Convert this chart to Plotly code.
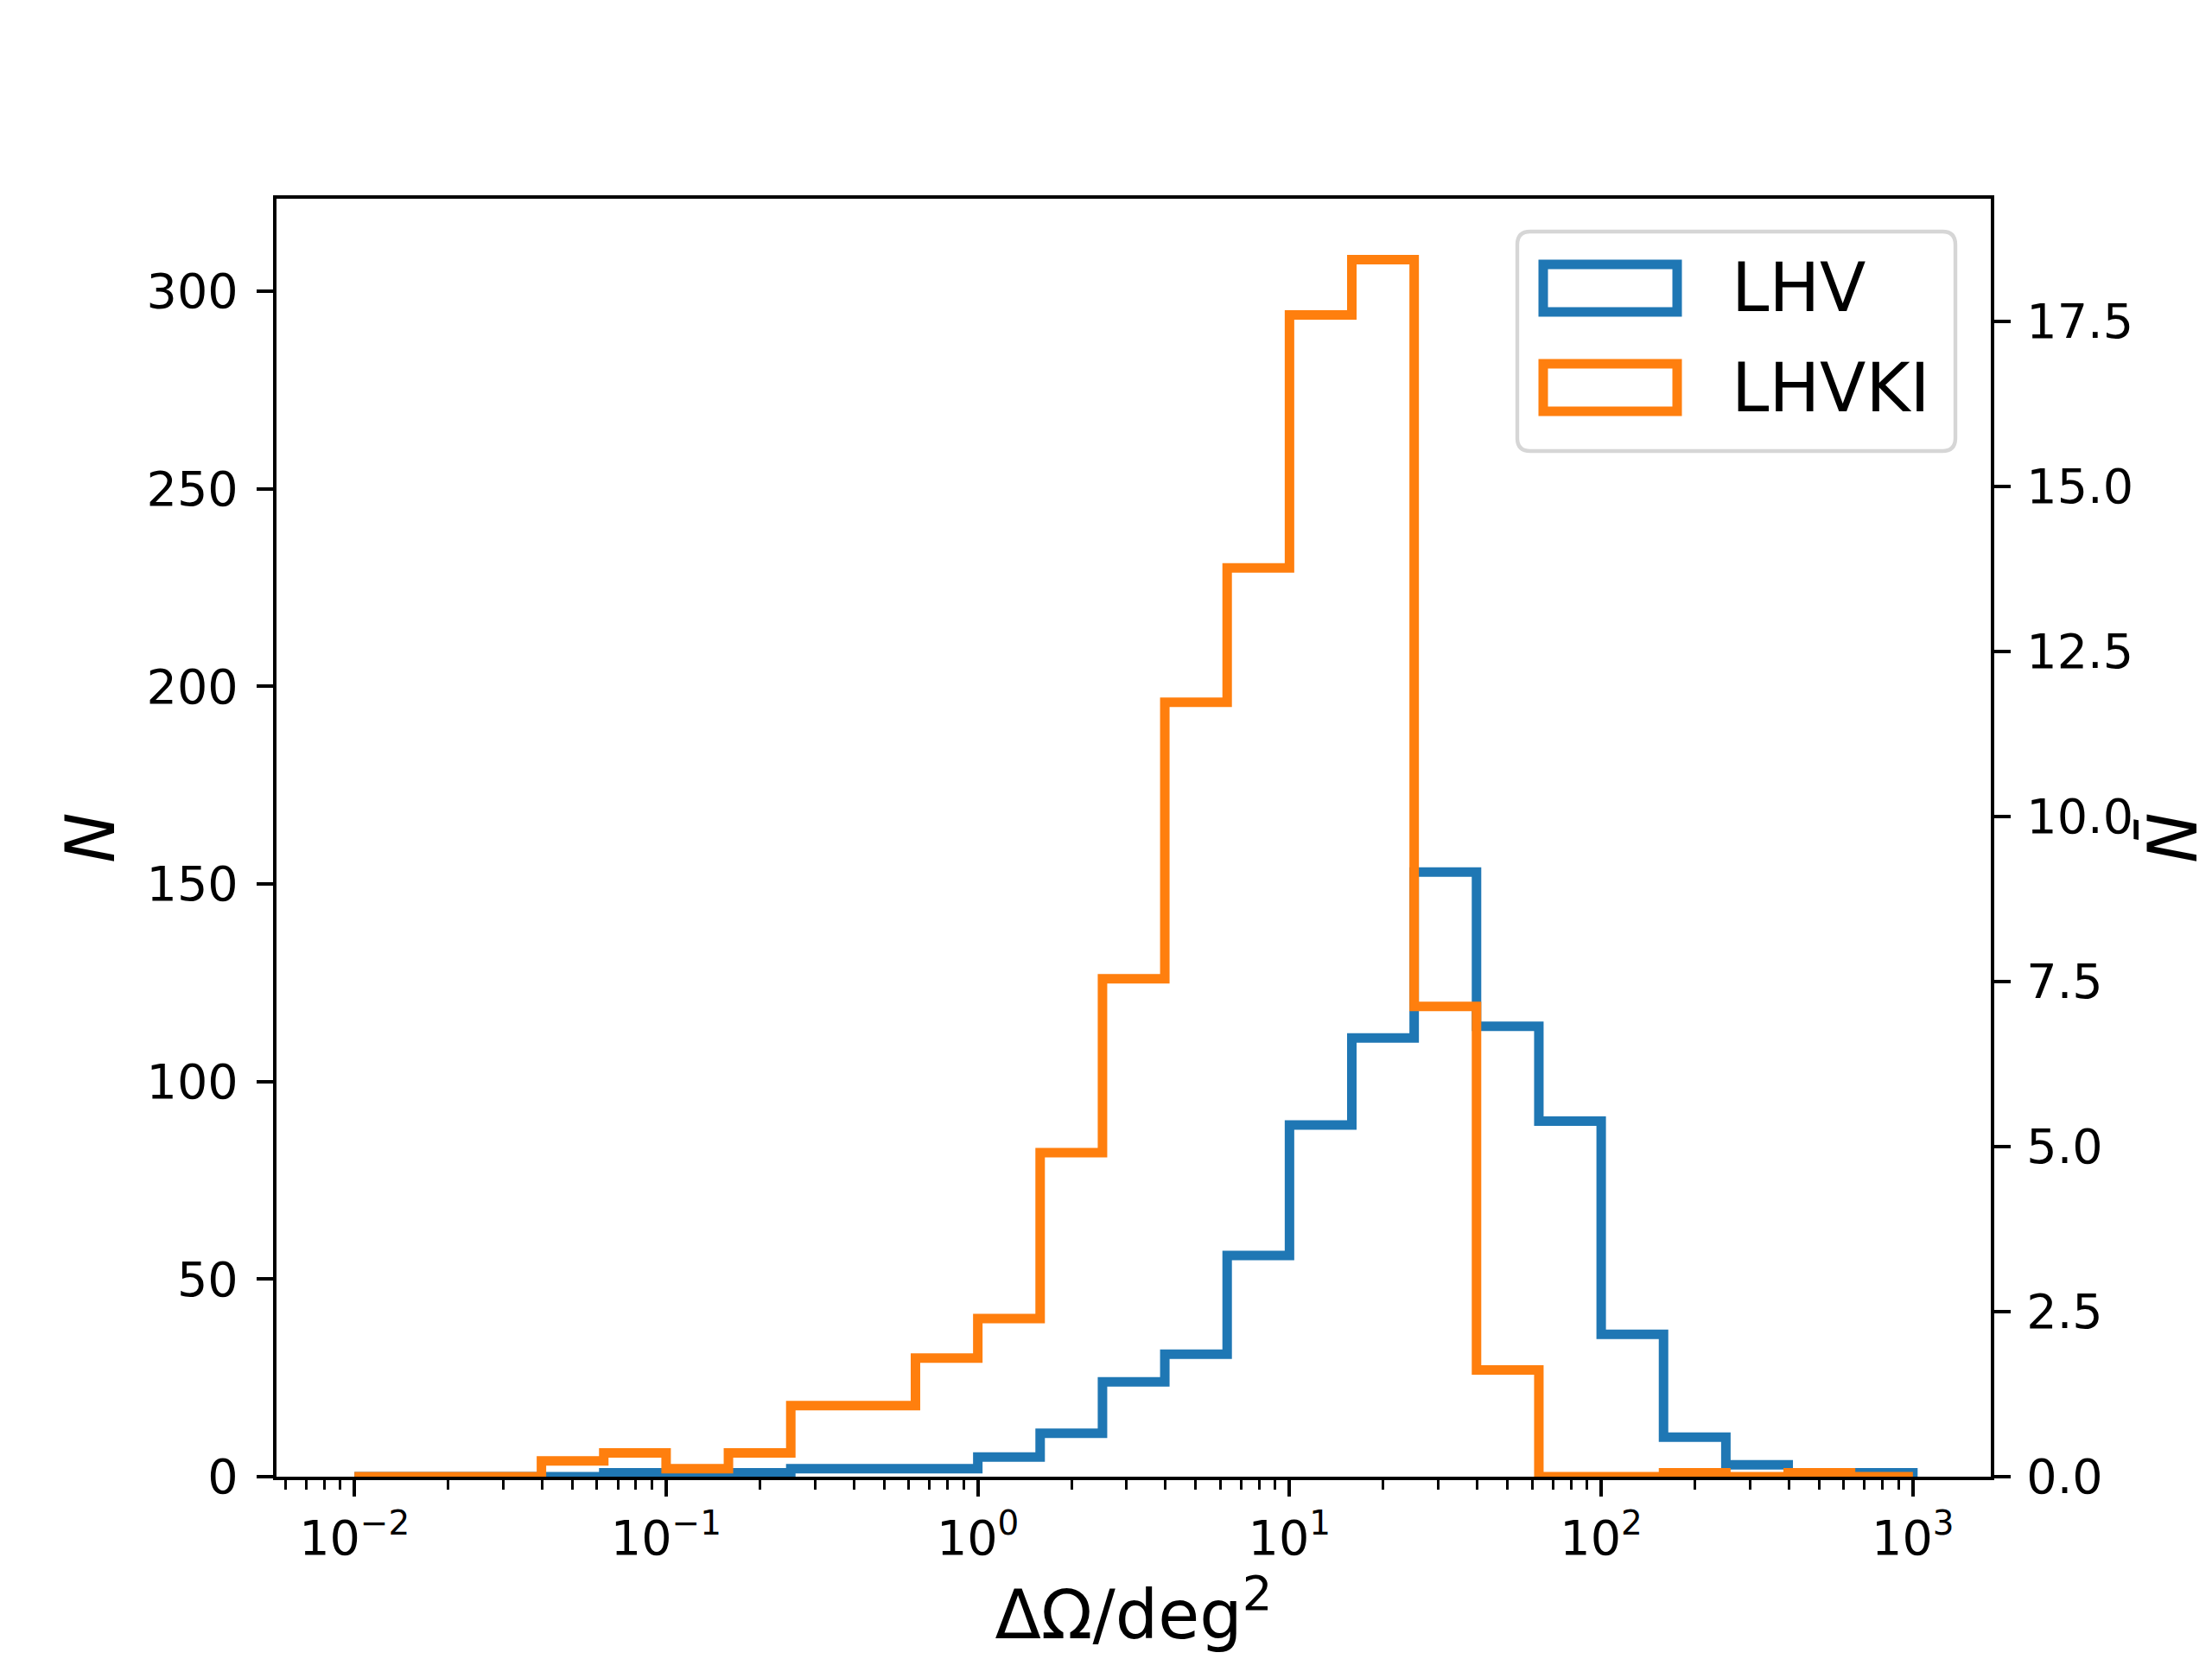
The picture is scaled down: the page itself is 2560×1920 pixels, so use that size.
import numpy as np
import plotly.graph_objects as go

# ---------------- data ----------------
bin_exponents = np.linspace(-2.0, 3.0, 26)          # log10 bin edges (5 bins per decade)
bin_edges = 10 ** bin_exponents

lhv_counts = [0, 0, 0, 0, 1, 1, 1, 2, 2, 2, 5, 11, 24, 31, 56, 89, 111, 153, 114, 90, 36, 10, 3, 1, 1]
lhvki_counts = [0, 0, 0, 4, 6, 2, 6, 18, 18, 30, 40, 82, 126, 196, 230, 294, 308, 119, 27, 0, 0, 1, 0, 1, 0]

series_names = ["LHV", "LHVKI"]
series_colors = ["#1f77b4", "#ff7f0e"]

x_tick_vals = [1e-2, 1e-1, 1e0, 1e1, 1e2, 1e3]
x_tick_text = ["10<sup>−2</sup>", "10<sup>−1</sup>", "10<sup>0</sup>", "10<sup>1</sup>",
               "10<sup>2</sup>", "10<sup>3</sup>"]
y_tick_vals = [0, 50, 100, 150, 200, 250, 300]
y2_tick_vals = [0.0, 2.5, 5.0, 7.5, 10.0, 12.5, 15.0, 17.5]
n_ratio = 16.71   # N / N-bar scale between the two axes

# ---------------- layout geometry ----------------
OFF = 8                       # browser body margin
W, H = 2560 - OFF, 1920 - OFF
L, R, T, B = 320 - OFF, 256, 230 - OFF, 211
PW, PH = W - L - R, H - T - B
FONT = "DejaVu Sans"


def px(xp):
    return (xp - OFF - L) / PW


def py(yp):
    return (H - B - (yp - OFF)) / PH


def step_xy(edges, counts):
    xs = [edges[0]] + list(edges)
    ys = [0] + list(counts) + [0]
    return xs, ys


fig = go.Figure()
for name, counts, color in zip(series_names, [lhv_counts, lhvki_counts], series_colors):
    xs, ys = step_xy(bin_edges, counts)
    fig.add_trace(go.Scatter(x=xs, y=ys, mode="lines", line=dict(color=color, width=11, shape="hv"),
                             name=name, showlegend=False, yaxis="y"))

# invisible trace on the right axis so it is drawn
fig.add_trace(go.Scatter(x=[bin_edges[0]], y=[0], mode="lines", yaxis="y2",
                         showlegend=False, hoverinfo="skip", line=dict(width=0)))

ymax = max(max(lhv_counts), max(lhvki_counts)) * 1.05

minor_vals = []
for d in range(-3, 4):
    for m in range(2, 10):
        v = m * 10.0 ** d
        if 10 ** -2.25 <= v <= 10 ** 3.25:
            minor_vals.append(v)

axis_common = dict(showline=True, linecolor="black", linewidth=4.4, ticks="outside",
                   ticklen=19, tickwidth=4.4, tickcolor="black", showgrid=False, zeroline=False,
                   tickfont=dict(family=FONT, size=55.6, color="black"))

fig.update_layout(
    width=W, height=H,
    margin=dict(l=L, r=R, t=T, b=B),
    paper_bgcolor="white", plot_bgcolor="white",
    font=dict(family=FONT, color="black"),
    xaxis=dict(type="log", range=[-2.25, 3.25], tickmode="array", tickvals=x_tick_vals,
               ticktext=x_tick_text, mirror=True,
               minor=dict(tickvals=minor_vals, ticks="outside", ticklen=11, tickwidth=3.3,
                          tickcolor="black", showgrid=False),
               title=dict(text="ΔΩ/deg<sup>2</sup>", font=dict(family=FONT, size=78), standoff=30),
               ticklabelstandoff=0,
               **axis_common),
    yaxis=dict(range=[0, ymax], tickmode="array", tickvals=y_tick_vals,
               title=dict(text="<i>N</i>", font=dict(family=FONT, size=78), standoff=12),
               ticklabelstandoff=10,
               **axis_common),
    yaxis2=dict(range=[0, ymax / n_ratio], tickmode="array", tickvals=y2_tick_vals,
                tickformat=".1f", overlaying="y", side="right",
                title=dict(text="<i>N̄</i>", font=dict(family=FONT, size=78), standoff=22),
                ticklabelstandoff=7,
                **axis_common),
)

# ---------------- legend (drawn manually to mimic matplotlib patch handles) ----------------
lx0, lx1, ly0, ly1, rad = 1756, 2263, 268, 522, 15
rx, ry = rad / PW, rad / PH
X0, X1, Y0, Y1 = px(lx0), px(lx1), py(ly1), py(ly0)
path = (f"M {X0+rx},{Y0} L {X1-rx},{Y0} Q {X1},{Y0} {X1},{Y0+ry} L {X1},{Y1-ry} "
        f"Q {X1},{Y1} {X1-rx},{Y1} L {X0+rx},{Y1} Q {X0},{Y1} {X0},{Y1-ry} "
        f"L {X0},{Y0+ry} Q {X0},{Y0} {X0+rx},{Y0} Z")
fig.add_shape(type="path", path=path, xref="paper", yref="paper",
              line=dict(color="#d6d6d6", width=4.4), fillcolor="rgba(255,255,255,0.8)", layer="above")

handle_rows = [(306, 361), (421, 476)]
for (hy0, hy1), name, color in zip(handle_rows, series_names, series_colors):
    fig.add_shape(type="rect", xref="paper", yref="paper",
                  x0=px(1786), x1=px(1941), y0=py(hy1), y1=py(hy0),
                  line=dict(color=color, width=11), fillcolor="rgba(0,0,0,0)", layer="above")
    fig.add_annotation(x=px(2002), y=py((hy0 + hy1) / 2), xref="paper", yref="paper",
                       text=name, showarrow=False, xanchor="left", yanchor="middle",
                       font=dict(family=FONT, size=78, color="black"))

fig.write_html("out.html")
